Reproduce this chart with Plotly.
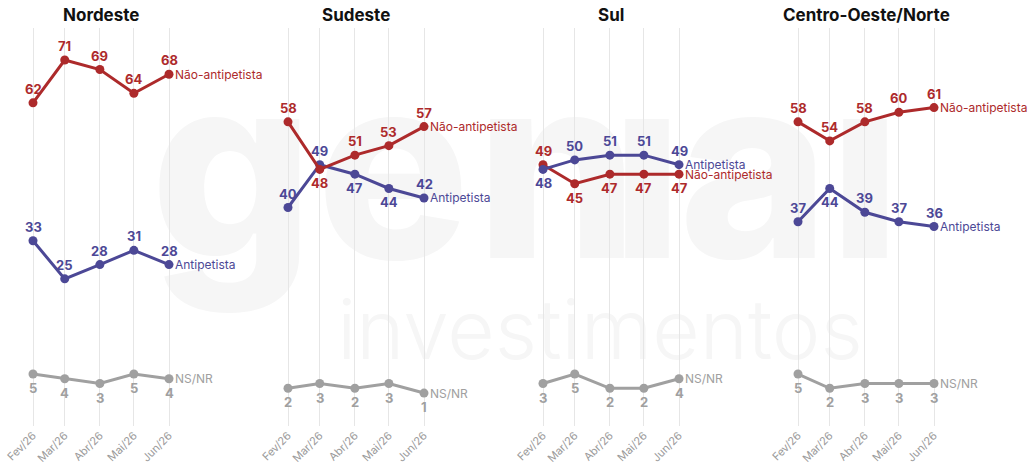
import plotly.graph_objects as go
from datetime import datetime, timedelta

# ---------------- data ----------------
months = ["2026-02-01", "2026-03-01", "2026-04-01", "2026-05-01", "2026-06-01"]
month_labels = ["Fev/26", "Mar/26", "Abr/26", "Mai/26", "Jun/26"]
regions = ["Nordeste", "Sudeste", "Sul", "Centro-Oeste/Norte"]

ne_nao = [62, 71, 69, 64, 68]
ne_anti = [33, 25, 28, 31, 28]
ne_ns = [5, 4, 3, 5, 4]

se_nao = [58, 48, 51, 53, 57]
se_anti = [40, 49, 47, 44, 42]
se_ns = [2, 3, 2, 3, 1]

sul_nao = [49, 45, 47, 47, 47]
sul_anti = [48, 50, 51, 51, 49]
sul_ns = [3, 5, 2, 2, 4]

co_nao = [58, 54, 58, 60, 61]
co_anti = [37, 44, 39, 37, 36]
co_ns = [5, 2, 3, 3, 3]

series_names = ["Não-antipetista", "Antipetista", "NS/NR"]

# label placement: 1 = above the point, -1 = below
ne_pos = [[1] * 5, [1] * 5, [-1] * 5]
se_pos = [[1, -1, 1, 1, 1], [1, 1, -1, -1, 1], [-1] * 5]
sul_pos = [[1, -1, -1, -1, -1], [-1, 1, 1, 1, 1], [-1] * 5]
co_pos = [[1] * 5, [1, -1, 1, 1, 1], [-1] * 5]

panels = [
    (ne_nao, ne_anti, ne_ns, ne_pos),
    (se_nao, se_anti, se_ns, se_pos),
    (sul_nao, sul_anti, sul_ns, sul_pos),
    (co_nao, co_anti, co_ns, co_pos),
]
# drawing order of series per panel (last one on top)
draw_order = [[2, 1, 0], [2, 1, 0], [2, 0, 1], [2, 1, 0]]

# ---------------- style ----------------
W, H = 1030, 465
RED = "#ad2a2b"
BLUE = "#4c4896"
GRAY = "#a0a0a0"
colors = [RED, BLUE, GRAY]
FONT = "Inter"
WATER = "#f6f6f6"

first_px = [33, 288, 543, 798]
span_px = 136
pad_px = 25
base = datetime(2026, 2, 1)
end = datetime(2026, 6, 1)
ppd = span_px / (end - base).days
pad_days = timedelta(days=pad_px / ppd)
x_range = [(base - pad_days).strftime("%Y-%m-%d %H:%M:%S"),
           (end + pad_days).strftime("%Y-%m-%d %H:%M:%S")]

top_px, bot_px = 28, 426
y_scale = 4.758  # px per point
y_ref_px, y_ref_v = 60, 71
y_top = y_ref_v + (y_ref_px - top_px) / y_scale
y_bot = y_ref_v - (bot_px - y_ref_px) / y_scale
y_dom = [1 - bot_px / H, 1 - top_px / H]

fig = go.Figure()

# ---------------- watermark logo (background subplot xy) ----------------
wm_letters = ["g", "e", "n", "ı", "a", "ı"]
wm_x = [232, 393, 557, 647, 754, 865]
fig.add_trace(go.Scatter(
    x=wm_x, y=[194] * len(wm_letters), text=wm_letters, mode="text",
    textposition="middle center",
    textfont=dict(family=FONT, size=255, color=WATER, weight=800),
    hoverinfo="skip", showlegend=False, xaxis="x", yaxis="y"))
fig.add_trace(go.Scatter(
    x=[600], y=[338], text=["investimentos"], mode="text",
    textposition="middle center",
    textfont=dict(family=FONT, size=82, color=WATER, weight=300),
    hoverinfo="skip", showlegend=False, xaxis="x", yaxis="y"))
fig.update_layout(
    xaxis=dict(domain=[0, 1], range=[0, W], visible=False, fixedrange=True),
    yaxis=dict(domain=[0, 1], range=[H, 0], visible=False, fixedrange=True),
)

annotations = []
layout_axes = {}
for i, (nao, anti, ns, pos) in enumerate(panels):
    k = i + 2
    xa, ya = f"x{k}", f"y{k}"
    x0 = (first_px[i] - pad_px) / W
    x1 = (first_px[i] + span_px + pad_px) / W
    layout_axes[f"xaxis{k}"] = dict(
        domain=[x0, x1], range=x_range, type="date", anchor=ya,
        tickmode="array", tickvals=months, ticktext=month_labels,
        tickangle=-45, tickfont=dict(family=FONT, size=11, color="#9a9a9a"),
        showgrid=True, gridcolor="#e6e6e6", gridwidth=1,
        showline=False, zeroline=False, ticks="", fixedrange=True,
        automargin=False)
    layout_axes[f"yaxis{k}"] = dict(
        domain=y_dom, range=[y_bot, y_top], anchor=xa, visible=False,
        showgrid=False, zeroline=False, fixedrange=True)

    vals = [nao, anti, ns]
    for s in draw_order[i]:
        fig.add_trace(go.Scatter(
            x=months, y=vals[s], mode="lines+markers",
            line=dict(color=colors[s], width=3),
            marker=dict(color=colors[s], size=9),
            hoverinfo="skip", showlegend=False, xaxis=xa, yaxis=ya))

    for s in range(3):
        for j, v in enumerate(vals[s]):
            annotations.append(dict(
                x=months[j], y=v, xref=xa, yref=ya, text=str(v),
                showarrow=False, yshift=14 * pos[s][j],
                font=dict(family=FONT, size=13, color=colors[s], weight=700)))
        annotations.append(dict(
            x=months[-1], y=vals[s][-1], xref=xa, yref=ya,
            text=series_names[s], showarrow=False, xanchor="left",
            xshift=4, font=dict(family=FONT, size=12, color=colors[s])))

    annotations.append(dict(
        x=(first_px[i] + span_px / 2) / W, y=1 - 15 / H, xref="paper",
        yref="paper", text=f"<b>{regions[i]}</b>", showarrow=False,
        xanchor="center", yanchor="middle",
        font=dict(family=FONT, size=17, color="#111111")))

fig.update_layout(**layout_axes)
fig.update_layout(
    width=W, height=H, margin=dict(l=0, r=0, t=0, b=0),
    paper_bgcolor="white", plot_bgcolor="rgba(0,0,0,0)",
    showlegend=False, annotations=annotations,
    font=dict(family=FONT),
)

fig.write_html("out.html",
               config={"displayModeBar": False, "staticPlot": True},
               post_script="document.body.style.margin='0';"
                           "document.body.style.overflow='hidden';")
